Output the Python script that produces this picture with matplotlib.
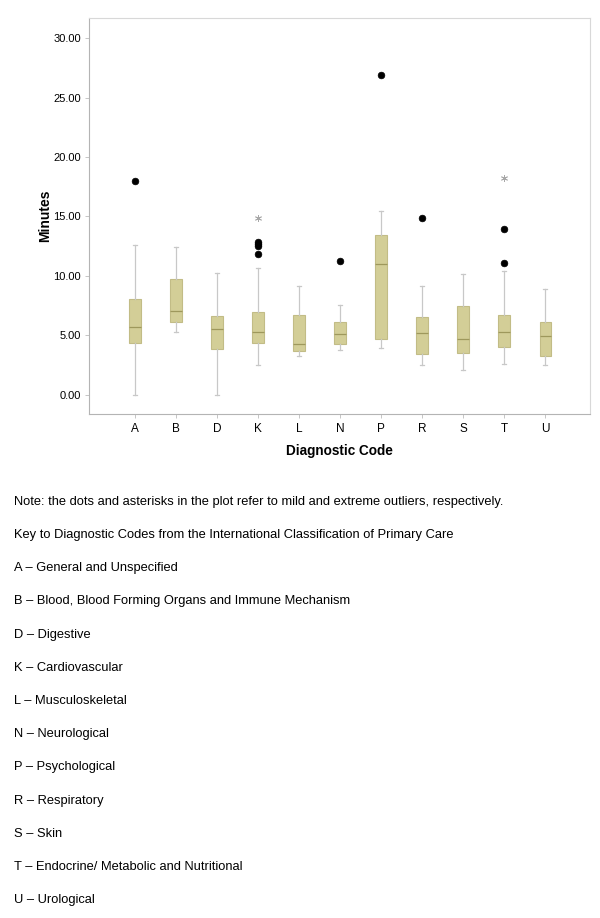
import matplotlib
matplotlib.use("Agg")
import matplotlib.pyplot as plt

plt.rcParams['font.family'] = ['Liberation Sans', 'DejaVu Sans']

# Datos (minutos por codigo diagnostico)
codigos = ['A', 'B', 'D', 'K', 'L', 'N', 'P', 'R', 'S', 'T', 'U']
bigote_inf = [0.0, 5.24, 0.0, 2.48, 3.24, 3.75, 3.92, 2.48, 2.06, 2.57, 2.48]
cuartil1 = [4.31, 6.09, 3.81, 4.34, 3.64, 4.29, 4.68, 3.41, 3.50, 4.03, 3.24]
mediana = [5.69, 7.05, 5.55, 5.27, 4.26, 5.10, 11.02, 5.19, 4.68, 5.27, 4.93]
cuartil3 = [8.06, 9.75, 6.63, 6.94, 6.68, 6.09, 13.42, 6.54, 7.47, 6.71, 6.09]
bigote_sup = [12.63, 12.46, 10.26, 10.68, 9.16, 7.58, 15.42, 9.16, 10.15, 10.43, 8.91]

# atipicos leves (puntos) y extremos (asteriscos)
atipicos_leves = {'A': [18.0], 'K': [12.88, 12.71, 12.50, 11.81], 'N': [11.22],
                  'P': [26.9], 'R': [14.86], 'T': [13.96, 11.08]}
atipicos_extremos = {'K': [14.89], 'T': [18.27]}

notas = [
    "Note: the dots and asterisks in the plot refer to mild and extreme outliers, respectively.",
    "Key to Diagnostic Codes from the International Classification of Primary Care",
    "A \u2013 General and Unspecified",
    "B \u2013 Blood, Blood Forming Organs and Immune Mechanism",
    "D \u2013 Digestive",
    "K \u2013 Cardiovascular",
    "L \u2013 Musculoskeletal",
    "N \u2013 Neurological",
    "P \u2013 Psychological",
    "R \u2013 Respiratory",
    "S \u2013 Skin",
    "T \u2013 Endocrine/ Metabolic and Nutritional",
    "U \u2013 Urological",
]

W, H = 600, 918
fig = plt.figure(figsize=(W / 100, H / 100), dpi=100)
ax = fig.add_axes([89.3 / W, 1 - 413.7 / H, (590 - 89.3) / W, (413.7 - 18) / H])

posiciones = list(range(1, len(codigos) + 1))
stats = []
for i, c in enumerate(codigos):
    stats.append({
        'label': c,
        'whislo': bigote_inf[i], 'q1': cuartil1[i], 'med': mediana[i],
        'q3': cuartil3[i], 'whishi': bigote_sup[i],
        'fliers': atipicos_leves.get(c, []),
    })

ax.bxp(stats, positions=posiciones, widths=0.28, patch_artist=True,
       capwidths=0.09,
       boxprops=dict(facecolor='#D3CE97', edgecolor='#C2BC86', linewidth=0.8),
       medianprops=dict(color='#9E985C', linewidth=0.9),
       whiskerprops=dict(color='#C8C8C8', linewidth=0.9),
       capprops=dict(color='#C8C8C8', linewidth=0.9),
       flierprops=dict(marker='o', markerfacecolor='black', markeredgecolor='black',
                       markersize=4.8, markeredgewidth=0.5, linestyle='none'))

for c, vals in atipicos_extremos.items():
    p = posiciones[codigos.index(c)]
    ax.plot([p] * len(vals), vals, linestyle='none', marker=(6, 2, 0),
            markersize=5, markeredgecolor='#A8A8A8', markeredgewidth=0.6)

ax.set_xlim(1 - 1.11, len(codigos) + 1.09)
ax.set_ylim(-1.6, 31.7)
ax.set_yticks([0, 5, 10, 15, 20, 25, 30])
ax.set_yticklabels(['%.2f' % v for v in [0, 5, 10, 15, 20, 25, 30]])
ax.set_xticks(posiciones)
ax.set_xticklabels(codigos)
ax.tick_params(axis='both', labelsize=8, length=3, width=0.6, color='#BBBBBB', pad=3)
ax.tick_params(axis='x', labelsize=8.5, pad=4)

for lado in ['left', 'bottom']:
    ax.spines[lado].set_color('#B4B4B4')
for lado in ['top', 'right']:
    ax.spines[lado].set_color('#D8D8D8')
for s in ax.spines.values():
    s.set_linewidth(0.8)

ax.set_ylabel("Minutes", fontsize=10, fontweight='bold', labelpad=1)
ax.set_xlabel("Diagnostic Code", fontsize=9.8, fontweight='bold', labelpad=6)

y_lineas = [502, 535, 568, 601, 635, 668, 701, 734, 767, 801, 834, 867, 900]
for texto, y in zip(notas, y_lineas):
    fig.text(14 / W, 1 - y / H, texto, fontsize=9.3, va='center', ha='left')

fig.savefig("out.png", dpi=100)
